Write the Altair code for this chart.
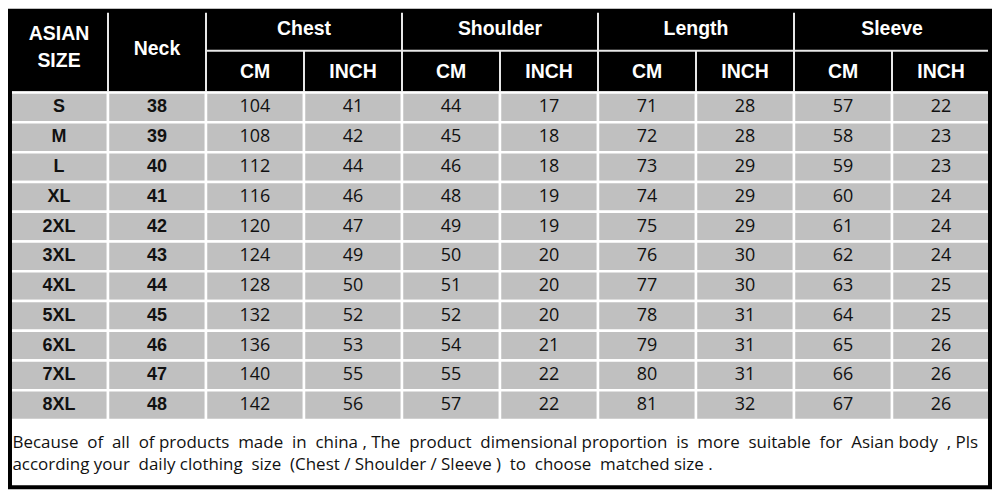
import altair as alt
import pandas as pd

sizes = ["S", "M", "L", "XL", "2XL", "3XL", "4XL", "5XL", "6XL", "7XL", "8XL"]
neck = [38, 39, 40, 41, 42, 43, 44, 45, 46, 47, 48]
chest_cm = [104, 108, 112, 116, 120, 124, 128, 132, 136, 140, 142]
chest_in = [41, 42, 44, 46, 47, 49, 50, 52, 53, 55, 56]
shoulder_cm = [44, 45, 46, 48, 49, 50, 51, 52, 54, 55, 57]
shoulder_in = [17, 18, 18, 19, 19, 20, 20, 20, 21, 22, 22]
length_cm = [71, 72, 73, 74, 75, 76, 77, 78, 79, 80, 81]
length_in = [28, 28, 29, 29, 29, 30, 30, 31, 31, 31, 32]
sleeve_cm = [57, 58, 59, 60, 61, 62, 63, 64, 65, 66, 67]
sleeve_in = [22, 23, 23, 24, 24, 24, 25, 25, 26, 26, 26]

groups = ["Chest", "Shoulder", "Length", "Sleeve"]
units = ["CM", "INCH"]
footer_lines = [
    "Because  of  all  of products  made  in  china , The  product  dimensional proportion  is  more  suitable  for  Asian body  , Pls",
    "according your  daily clothing  size  (Chest / Shoulder / Sleeve )  to  choose  matched size .",
]
# keep the wide gaps of the original wording (SVG collapses plain double spaces)
footer_lines = [s.replace("  ", "\u00a0 ") for s in footer_lines]

# layout (vertical units ~ pixels of the reference table)
TOTAL_H = 489.0
HDR1 = 41.0
HDR2 = 83.0
DATA_TOP = 84.0
ROW_H = 30.55
FOOT_TOP = DATA_TOP + ROW_H * len(sizes)

xs = alt.Scale(domain=[0, 10])
ys = alt.Scale(domain=[0, TOTAL_H], reverse=True)

columns = [sizes, neck, chest_cm, chest_in, shoulder_cm, shoulder_in,
           length_cm, length_in, sleeve_cm, sleeve_in]

cells = []
for i in range(len(sizes)):
    for j, col in enumerate(columns):
        cells.append({
            "c0": j, "c1": j + 1, "xm": j + 0.5,
            "y0": DATA_TOP + i * ROW_H, "y1": DATA_TOP + (i + 1) * ROW_H,
            "ym": DATA_TOP + (i + 0.5) * ROW_H,
            "txt": str(col[i]), "bold": "bold" if j < 2 else "normal",
        })
cells = pd.DataFrame(cells)

hdr_txt = [
    {"xm": 0.5, "ym": 24.0, "txt": "ASIAN"},
    {"xm": 0.5, "ym": 52.0, "txt": "SIZE"},
    {"xm": 1.5, "ym": 39.0, "txt": "Neck"},
]
for g, name in enumerate(groups):
    hdr_txt.append({"xm": 3 + 2 * g, "ym": 19.0, "txt": name})
    for u, un in enumerate(units):
        hdr_txt.append({"xm": 2 + 2 * g + u + 0.5, "ym": 63.0, "txt": un})
hdr_txt = pd.DataFrame(hdr_txt)

vlines = []
for b in [1, 2, 4, 6, 8]:
    vlines.append({"x": b, "y0": 0.0, "y1": HDR2})
for b in [3, 5, 7, 9]:
    vlines.append({"x": b, "y0": HDR1, "y1": HDR2})
vlines = pd.DataFrame(vlines)
hline = pd.DataFrame([{"x0": 2, "x1": 10, "y": HDR1}])

frame = pd.DataFrame([{"x0": 0, "x1": 10, "y0": 0.0, "y1": TOTAL_H}])
hdr_box = pd.DataFrame([{"x0": 0, "x1": 10, "y0": 0.0, "y1": HDR2}])
foot = pd.DataFrame([
    {"x": 0.025, "y": FOOT_TOP + 24, "txt": footer_lines[0]},
    {"x": 0.025, "y": FOOT_TOP + 46, "txt": footer_lines[1]},
])

bg = alt.Chart(frame).mark_rect(color="white").encode(
    x=alt.X("x0:Q", scale=xs, axis=None), x2="x1:Q",
    y=alt.Y("y0:Q", scale=ys, axis=None), y2="y1:Q")

hdr = alt.Chart(hdr_box).mark_rect(color="black").encode(
    x=alt.X("x0:Q", scale=xs, axis=None), x2="x1:Q",
    y=alt.Y("y0:Q", scale=ys, axis=None), y2="y1:Q")

cell_rects = alt.Chart(cells).mark_rect(color="#c0c0c0", stroke="white", strokeWidth=2.5).encode(
    x=alt.X("c0:Q", scale=xs, axis=None), x2="c1:Q",
    y=alt.Y("y0:Q", scale=ys, axis=None), y2="y1:Q")

vl = alt.Chart(vlines).mark_rule(color="#e8e8e8", strokeWidth=2).encode(
    x=alt.X("x:Q", scale=xs, axis=None),
    y=alt.Y("y0:Q", scale=ys, axis=None), y2="y1:Q")

hl = alt.Chart(hline).mark_rule(color="#e8e8e8", strokeWidth=2).encode(
    x=alt.X("x0:Q", scale=xs, axis=None), x2="x1:Q",
    y=alt.Y("y:Q", scale=ys, axis=None))

hdr_text = alt.Chart(hdr_txt).mark_text(
    color="white", font="Liberation Sans", fontWeight="bold", fontSize=19.5, baseline="middle", align="center"
).encode(
    x=alt.X("xm:Q", scale=xs, axis=None),
    y=alt.Y("ym:Q", scale=ys, axis=None), text="txt:N")

cell_text_b = alt.Chart(cells[cells["bold"] == "bold"]).mark_text(
    color="#111111", font="Liberation Sans", fontWeight="bold", fontSize=18, baseline="middle", align="center"
).encode(
    x=alt.X("xm:Q", scale=xs, axis=None),
    y=alt.Y("ym:Q", scale=ys, axis=None), text="txt:N")

cell_text_n = alt.Chart(cells[cells["bold"] == "normal"]).mark_text(
    color="#111111", font="Open Sans", fontSize=18, baseline="middle", align="center"
).encode(
    x=alt.X("xm:Q", scale=xs, axis=None),
    y=alt.Y("ym:Q", scale=ys, axis=None), text="txt:N")

foot_text = alt.Chart(foot).mark_text(
    color="#111111", font="Open Sans", fontSize=17, baseline="middle", align="left"
).encode(
    x=alt.X("x:Q", scale=xs, axis=None),
    y=alt.Y("y:Q", scale=ys, axis=None), text="txt:N")

border = alt.Chart(frame).mark_rect(fillOpacity=0, stroke="black", strokeWidth=4).encode(
    x=alt.X("x0:Q", scale=xs, axis=None), x2="x1:Q",
    y=alt.Y("y0:Q", scale=ys, axis=None), y2="y1:Q")

chart = alt.layer(
    bg, hdr, cell_rects, vl, hl, hdr_text, cell_text_b, cell_text_n, foot_text, border
).properties(
    width=987, height=482, padding=0,
    autosize=alt.AutoSizeParams(type="fit", contains="padding"),
).configure_view(stroke=None)

chart.save("out.html", embed_options={"renderer": "svg", "actions": False})
